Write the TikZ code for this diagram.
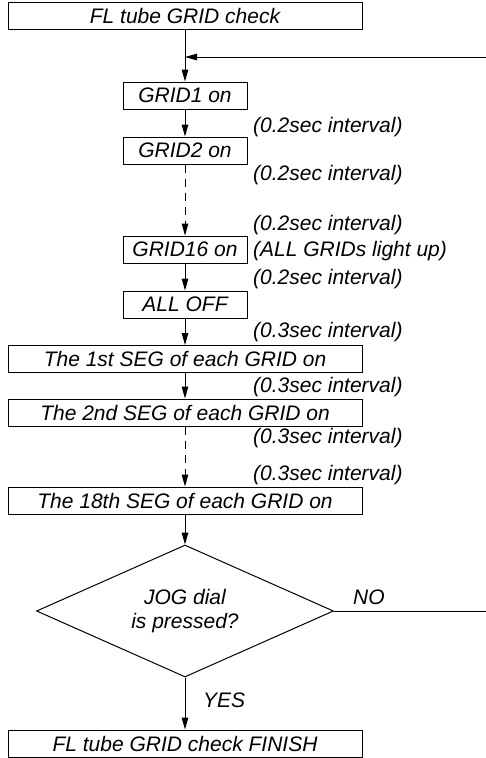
\documentclass[tikz,border=0pt]{standalone}
\usepackage{fontspec}
\setmainfont{Liberation Sans}
\usetikzlibrary{arrows.meta,shapes.geometric}

\begin{document}
\begin{tikzpicture}[x=1pt, y=-1pt, font=\fontsize{21}{24}\selectfont\itshape]
\tikzset{
  box/.style={draw, line width=1pt, inner sep=0pt, minimum height=27pt},
  wide/.style={box, minimum width=354pt},
  narrow/.style={box, minimum width=124pt},
  dec/.style={draw, line width=1pt, diamond, aspect=2.25, minimum width=297pt, minimum height=132pt, inner sep=0pt, align=center},
  ln/.style={line width=1pt},
  arr/.style={ln, -{Triangle[length=12pt, width=6.5pt]}},
  gap/.style={arr, dash pattern=on 8pt off 6pt},
  lab/.style={anchor=west, inner sep=0pt}}

\useasboundingbox (0,0) rectangle (486,758);

% ---------------- GRID stage ----------------
\node[wide] (start) at (185,15.5) {FL tube GRID check};
\coordinate (join) at (185,57);
\coordinate (fbin) at (486,57);
\node[narrow] (grid1) at (185,95.5) {GRID1 on};
\node[narrow] (grid2) at (185,150.5) {GRID2 on};
\node[narrow] (grid16) at (185,249.5) {GRID16 on};
\node[narrow] (alloff) at (185,304.5) {ALL OFF};

\node[lab] (t1) at (253,127) {(0.2sec interval)};
\node[lab] (t2) at (253,175) {(0.2sec interval)};
\node[lab] (t3) at (253,225) {(0.2sec interval)};
\node[lab] (t4) at (253,251) {(ALL GRIDs light up)};
\node[lab] (t5) at (253,279) {(0.2sec interval)};

% ---------------- SEG stage ----------------
\node[wide] (seg1) at (185,359) {The 1st SEG of each GRID on};
\node[wide] (seg2) at (185,412.5) {The 2nd SEG of each GRID on};
\node[wide] (seg18) at (185,500.5) {The 18th SEG of each GRID on};

\node[lab] (t6) at (253,332) {(0.3sec interval)};
\node[lab] (t7) at (253,387) {(0.3sec interval)};
\node[lab] (t8) at (253,438) {(0.3sec interval)};
\node[lab] (t9) at (253,475) {(0.3sec interval)};

% ---------------- decision ----------------
\node[dec] (jog) at (185,611) {JOG dial\\is pressed?};
\coordinate (noout) at (486,611);
\node[wide] (finish) at (185,743.5) {FL tube GRID check FINISH};
\node[lab] (no) at (353,597) {NO};
\node[lab] (yes) at (203,700) {YES};

% ---------------- connectors ----------------
\draw[ln] (start) -- (join);
\draw[arr] (fbin) -- (join);
\draw[arr] (join) -- (grid1);
\draw[arr] (grid1) -- (grid2);
\draw[gap] (grid2) -- (grid16);
\draw[arr] (grid16) -- (alloff);
\draw[arr] (alloff) -- (seg1);
\draw[arr] (seg1) -- (seg2);
\draw[gap] (seg2) -- (seg18);
\draw[arr] (seg18) -- (jog);
\draw[arr] (jog) -- (finish);
\draw[ln] (jog.east) -- (noout);
\end{tikzpicture}
\end{document}
